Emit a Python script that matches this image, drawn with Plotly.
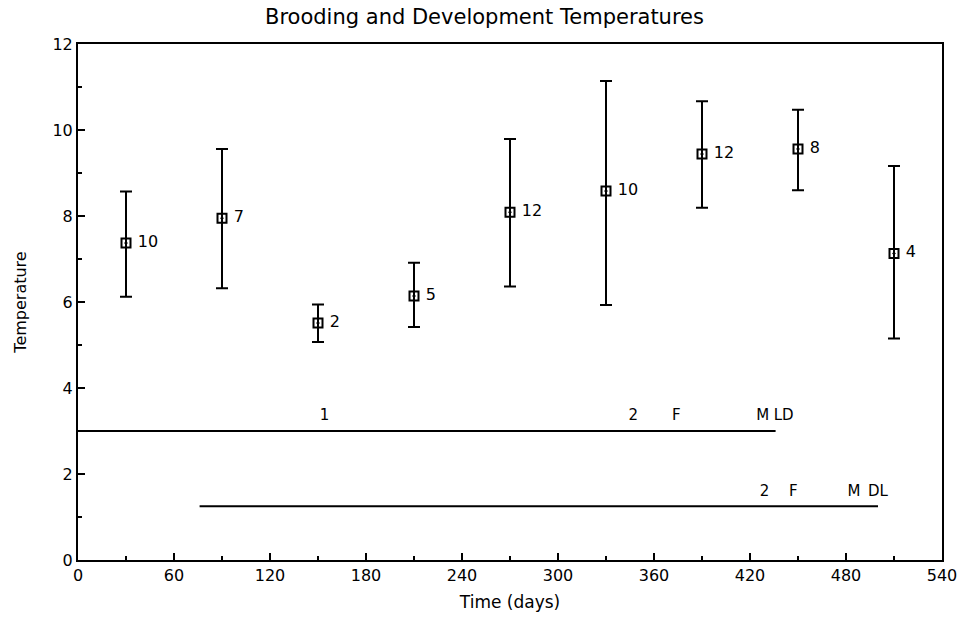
import plotly.graph_objects as go

# Data
days = [30, 90, 150, 210, 270, 330, 390, 450, 510]
temp_mean = [7.37, 7.95, 5.51, 6.14, 8.09, 8.58, 9.44, 9.56, 7.13]
temp_high = [8.57, 9.56, 5.94, 6.91, 9.79, 11.14, 10.67, 10.47, 9.16]
temp_low = [6.12, 6.32, 5.07, 5.42, 6.36, 5.93, 8.19, 8.60, 5.15]
n_obs = ["10", "7", "2", "5", "12", "10", "12", "8", "4"]

# Development period bars
period_start = [0, 76]
period_end = [436, 500]
period_y = [3.0, 1.25]

# Stage labels along the bars
stage_text = ["1", "2", "F", "M", "LD", "2", "F", "M", "DL"]
stage_x = [154, 347, 374, 428, 441, 429, 447, 485, 500]
stage_y = [3.35, 3.35, 3.35, 3.35, 3.35, 1.57, 1.57, 1.57, 1.57]

x_ticks = [0, 60, 120, 180, 240, 300, 360, 420, 480, 540]
y_ticks = [0, 2, 4, 6, 8, 10, 12]

FONT = "DejaVu Sans"

fig = go.Figure()

for x0, x1, yv in zip(period_start, period_end, period_y):
    fig.add_trace(go.Scatter(
        x=[x0, x1], y=[yv, yv], mode="lines",
        line=dict(color="black", width=2), showlegend=False, hoverinfo="skip"))

fig.add_trace(go.Scatter(
    x=days, y=temp_mean, mode="markers+text",
    text=[" " + t for t in n_obs], textposition="middle right",
    textfont=dict(family=FONT, size=16, color="black"),
    marker=dict(symbol="square-open-dot", size=9, color="black",
                line=dict(width=2, color="black")),
    error_y=dict(type="data", symmetric=False,
                 array=[h - m for h, m in zip(temp_high, temp_mean)],
                 arrayminus=[m - l for m, l in zip(temp_mean, temp_low)],
                 color="black", thickness=2, width=6),
    showlegend=False))

fig.add_trace(go.Scatter(
    x=stage_x, y=stage_y, mode="text", text=stage_text,
    textposition="middle center",
    textfont=dict(family=FONT, size=15, color="black"),
    showlegend=False, hoverinfo="skip"))

fig.update_layout(
    width=969, height=622,
    paper_bgcolor="white", plot_bgcolor="white",
    margin=dict(l=78, r=21, t=44, b=62),
    title=dict(text="Brooding and Development Temperatures",
               x=0.5, xanchor="center", y=0.974, yanchor="middle",
               font=dict(family=FONT, size=21, color="black")),
    font=dict(family=FONT, color="black"),
)

fig.update_xaxes(
    range=[0, 540], tickvals=x_ticks, ticks="inside", ticklen=7,
    tickwidth=2, tickcolor="black",
    minor=dict(dtick=30, tick0=0, ticks="inside", ticklen=4, tickwidth=2, tickcolor="black"),
    showline=True, linecolor="black", linewidth=2, mirror=True,
    showgrid=False, zeroline=False,
    tickfont=dict(family=FONT, size=16, color="black"),
    title=dict(text="Time (days)", font=dict(family=FONT, size=17, color="black"), standoff=12),
)
fig.update_yaxes(
    range=[0, 12], tickvals=y_ticks, ticks="inside", ticklen=7,
    tickwidth=2, tickcolor="black",
    minor=dict(dtick=1, tick0=0, ticks="inside", ticklen=4, tickwidth=2, tickcolor="black"),
    showline=True, linecolor="black", linewidth=2, mirror=True,
    showgrid=False, zeroline=False,
    tickfont=dict(family=FONT, size=16, color="black"),
    title=dict(text="Temperature", font=dict(family=FONT, size=16, color="black"), standoff=22),
)

fig.write_html("out.html")
